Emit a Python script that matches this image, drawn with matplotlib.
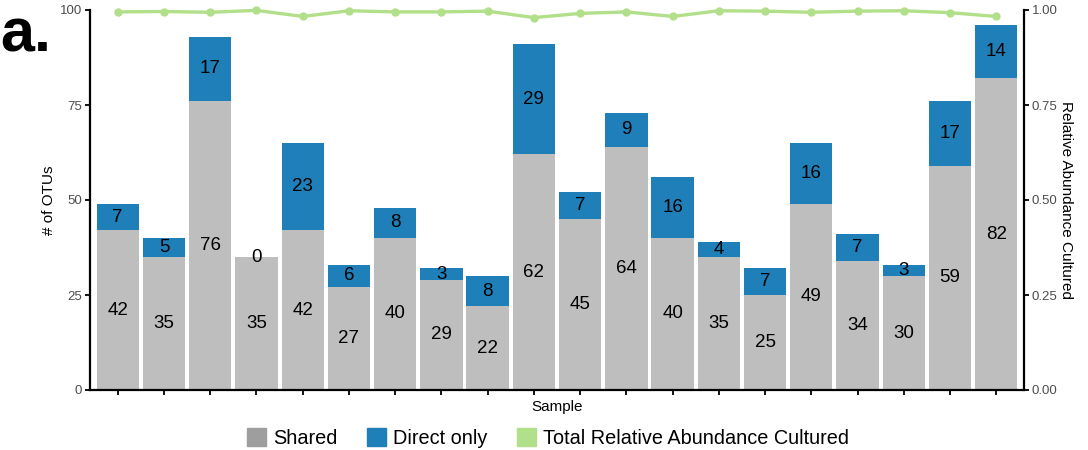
import numpy as np
import matplotlib
matplotlib.use("Agg")
import matplotlib.pyplot as plt
from matplotlib.patches import Patch

plt.rcParams['font.family'] = ['Liberation Sans', 'DejaVu Sans']

# Data
samples = list(range(1, 21))
shared = [42, 35, 76, 35, 42, 27, 40, 29, 22, 62, 45, 64, 40, 35, 25, 49, 34, 30, 59, 82]
direct_only = [7, 5, 17, 0, 23, 6, 8, 3, 8, 29, 7, 9, 16, 4, 7, 16, 7, 3, 17, 14]
rel_abundance = [0.995, 0.996, 0.994, 0.999, 0.983, 0.998, 0.995, 0.995, 0.997, 0.980,
                 0.991, 0.995, 0.983, 0.998, 0.997, 0.994, 0.997, 0.998, 0.993, 0.983]
left_ticks = [0, 25, 50, 75, 100]
right_ticks = [0.0, 0.25, 0.5, 0.75, 1.0]

gray = '#bebebe'
gray_key = '#9e9e9e'
blue = '#1f7fb8'
green = '#b2df8a'
tick_gray = '#4d4d4d'

fig = plt.figure(figsize=(10.88, 4.5), dpi=100)
ax = fig.add_axes([90 / 1088, 1 - 390 / 450, (1024 - 90) / 1088, 380 / 450])

x = np.arange(len(samples))
width = 0.915
ax.bar(x, shared, width=width, color=gray, zorder=2)
ax.bar(x, direct_only, width=width, bottom=shared, color=blue, zorder=2)

for xi, s, d in zip(x, shared, direct_only):
    ax.text(xi, s / 2, str(s), ha='center', va='center', fontsize=13.5, color='black', zorder=3)
    ax.text(xi, s + d / 2, str(d), ha='center', va='center', fontsize=13.5, color='black', zorder=3)

ax.set_xlim(-0.6, len(samples) - 0.4)
ax.set_ylim(0, 100)
ax.set_yticks(left_ticks)
ax.set_xticks(x)
ax.set_xticklabels([])
ax.set_xlabel('Sample', fontsize=11, labelpad=2)
ax.set_ylabel('# of OTUs', fontsize=11, labelpad=3)

for side in ['top', 'right']:
    ax.spines[side].set_visible(False)
for side in ['left', 'bottom']:
    ax.spines[side].set_linewidth(1.6)
ax.tick_params(axis='both', length=3.5, width=1.3, labelsize=9.5, labelcolor=tick_gray, pad=2)

ax2 = ax.twinx()
ax2.plot(x, rel_abundance, color=green, linewidth=2.4, marker='o', markersize=5,
         zorder=4, clip_on=False)
ax2.set_ylim(0, 1)
ax2.set_yticks(right_ticks)
ax2.set_yticklabels([f'{t:.2f}' for t in right_ticks])
ax2.set_ylabel('Relative Abundance Cultured', fontsize=11, rotation=270, labelpad=11)
for side in ['top', 'left', 'bottom']:
    ax2.spines[side].set_visible(False)
ax2.spines['right'].set_linewidth(1.6)
ax2.tick_params(axis='y', length=3.5, width=1.3, labelsize=9.5, labelcolor=tick_gray, pad=2)

handles = [Patch(color=gray_key, label='Shared'),
           Patch(color=blue, label='Direct only'),
           Patch(color=green, label='Total Relative Abundance Cultured')]
fig.legend(handles=handles, loc='center', bbox_to_anchor=(548 / 1088, 1 - 438 / 450),
           ncol=3, frameon=False, fontsize=14.3, handlelength=1.0, handleheight=1.0,
           handletextpad=0.35, columnspacing=1.45, borderpad=0)

fig.text(0.0, 1 - 8 / 450, 'a.', fontsize=44, fontweight='bold', va='top', ha='left')

fig.savefig('out.png', dpi=100)
